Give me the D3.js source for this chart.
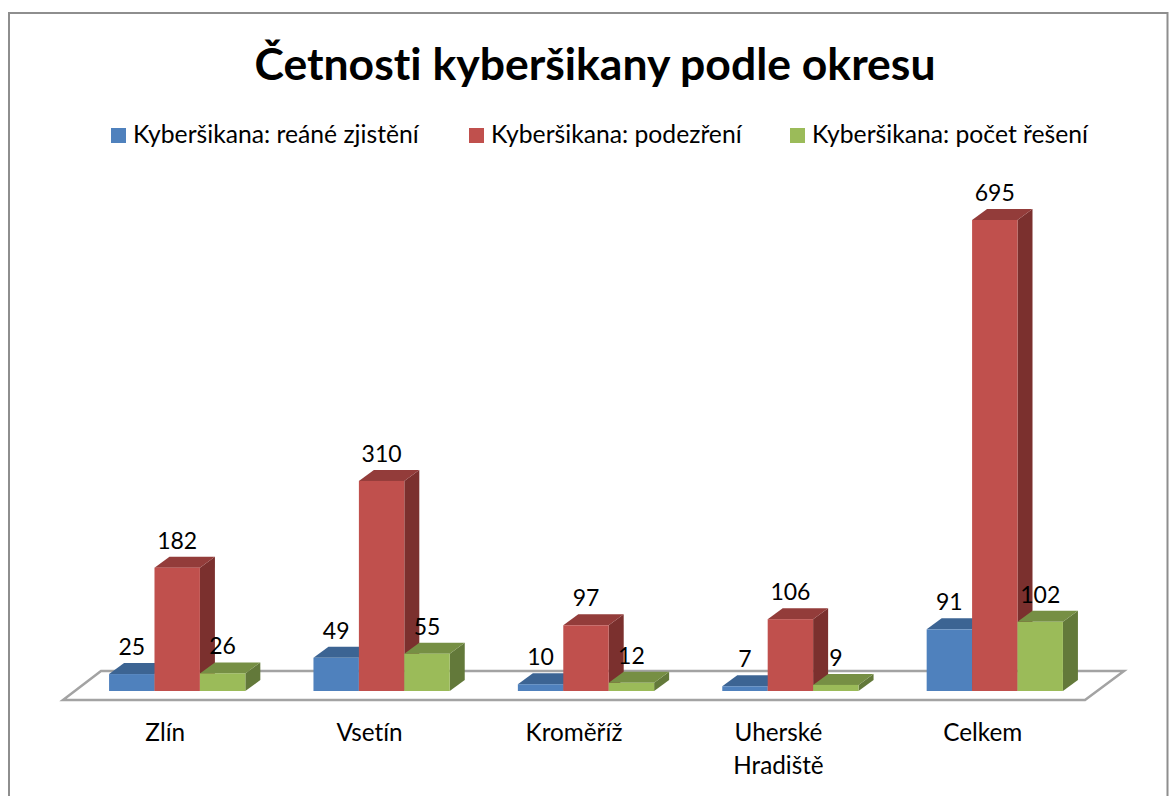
<!DOCTYPE html>
<html><head><meta charset="utf-8">
<script src="https://cdn.jsdelivr.net/npm/d3@7/dist/d3.min.js"></script>
<style>html,body{margin:0;padding:0;background:#fff}svg{display:block}text{font-family:Lato,"Open Sans",sans-serif;fill:#000;font-variant-ligatures:none}</style>
</head><body><svg id="c" width="1170" height="796"></svg>
<script>
const title = "Četnosti kyberšikany podle okresu";
const categories = ["Zlín","Vsetín","Kroměříž","Uherské Hradiště","Celkem"];
const seriesNames = ["Kyberšikana: reáné zjistění","Kyberšikana: podezření","Kyberšikana: počet řešení"];
const realne = [25,49,10,7,91];
const podezreni = [182,310,97,106,695];
const reseni = [26,55,12,9,102];
const front = ["#4F81BD","#C0504D","#9BBB59"];
const top3d = ["#3C6493","#933C3A","#768F44"];
const side = ["#335377","#7B302E","#63793A"];
const legendX = [111,469,790];

const svg = d3.select("#c");
const W=1170,H=796, baseY=691, dx=15, dy=-11;
const x = d3.scaleBand().domain(categories).range([75,1097]).paddingInner(1/3).paddingOuter(1/6);
const xs = d3.scaleBand().domain([0,1,2]).range([0,x.bandwidth()]);
const y = d3.scaleLinear().domain([0,695]).range([baseY,220]);
const xLab = d3.scaleBand().domain(categories).range([63,1085]);
const series = [realne,podezreni,reseni];

// frame
svg.append("path").attr("d",`M9,${H}V13H1167.5V${H}`).attr("fill","none").attr("stroke","#8e8e8e").attr("stroke-width",2);

svg.append("text").attr("x",595).attr("y",80).attr("text-anchor","middle")
  .attr("font-size",44.5).attr("font-weight",700).text(title);

// legend
const lg = svg.append("g").selectAll("g").data(seriesNames).join("g");
lg.append("rect").attr("x",(d,i)=>legendX[i]).attr("y",128).attr("width",15).attr("height",15).attr("fill",(d,i)=>front[i]);
lg.append("text").attr("x",(d,i)=>legendX[i]+22).attr("y",143).attr("font-size",24.7).text(d=>d);

// floor
svg.append("polygon").attr("points","63,700 1085,700 1124,671 101,671")
  .attr("fill","#fff").attr("stroke","#a3a3a3").attr("stroke-width",2.5).attr("stroke-linejoin","miter");

// bars
const flat = [];
categories.forEach((c,ci)=>series.forEach((s,si)=>flat.push({c,si,v:s[ci]})));
const bars = svg.append("g").selectAll("g").data(flat).join("g");
const X0 = d=>x(d.c)+xs(d.si), X1 = d=>X0(d)+xs.bandwidth();
bars.append("polygon").attr("fill",d=>side[d.si])
  .attr("points",d=>[[X1(d),y(0)],[X1(d)+dx,y(0)+dy],[X1(d)+dx,y(d.v)+dy],[X1(d),y(d.v)]].join(" "));
bars.append("polygon").attr("fill",d=>top3d[d.si])
  .attr("points",d=>[[X0(d),y(d.v)],[X1(d),y(d.v)],[X1(d)+dx,y(d.v)+dy],[X0(d)+dx,y(d.v)+dy]].join(" "));
bars.append("rect").attr("fill",d=>front[d.si])
  .attr("x",X0).attr("width",xs.bandwidth()).attr("y",d=>y(d.v)).attr("height",d=>y(0)-y(d.v));

// value labels
svg.append("g").selectAll("text").data(flat).join("text")
  .attr("x",d=>X0(d)+xs.bandwidth()/2).attr("y",d=>y(d.v)-19)
  .attr("text-anchor","middle").attr("font-size",23).text(d=>d.v);

// category labels
const cl = svg.append("g").selectAll("text").data(categories).join("text")
  .attr("text-anchor","middle").attr("font-size",24.3)
  .attr("transform",d=>`translate(${xLab(d)+xLab.bandwidth()/2},741)`);
cl.selectAll("tspan").data(d=>d.split(" ")).join("tspan")
  .attr("x",0).attr("dy",(d,i)=>i?33:0).text(d=>d);
</script></body></html>
